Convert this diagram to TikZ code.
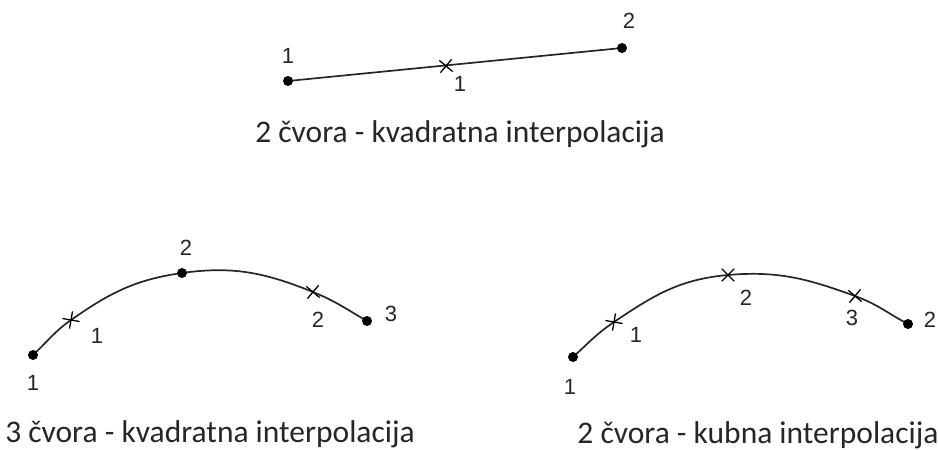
\documentclass[tikz,border=0pt]{standalone}
\usepackage{fontspec}
\setmainfont{Carlito}
\newfontfamily\labelfont{Liberation Sans}
\usetikzlibrary{shapes.misc}
\begin{document}
\begin{tikzpicture}[x=1pt,y=-1pt,
  knot/.style={circle,fill=black,inner sep=0pt,minimum size=10pt},
  xmark/.style={cross out,draw=black,line width=1.3pt,inner sep=0pt,minimum size=11pt},
  lbl/.style={font=\labelfont\fontsize{22}{22}\selectfont,text=black!85,inner sep=0pt},
  captext/.style={font=\fontsize{31.5}{32}\selectfont,text=black!85,inner sep=0pt},
  curve/.style={line width=1.7pt,draw=black!85}]
\useasboundingbox (0,0) rectangle (938,450);
% top
\coordinate (t1) at (288,81);
\coordinate (tm) at (446,66);
\coordinate (t2) at (622,48);
\draw[curve] (t1) -- (t2);
\node[knot] (T1) at (t1) {};
\node[knot] (T2) at (t2) {};
\node[xmark,rotate=5] (TM) at (tm) {};
\node[lbl] (lt1) at (288,56) {1};
\node[lbl] (lt2) at (629,21) {2};
\node[lbl] (ltm) at (460,84) {1};
\node[captext] (c1) at (460,134) {2 čvora - kvadratna interpolacija};
% bottom left
\coordinate (a1) at (33,355);
\coordinate (a2) at (71,320);
\coordinate (a3) at (182,273);
\coordinate (a4) at (313,292);
\coordinate (a5) at (367,321);
\draw[curve] (a1) to[out=43,in=215] (a2) to[out=35,in=188] (a3)
  to[out=8,in=158] (a4) to[out=-22,in=150] (a5);
\node[knot] (A1) at (a1) {};
\node[xmark,rotate=35] (A2) at (a2) {};
\node[knot] (A3) at (a3) {};
\node[xmark,rotate=5] (A4) at (a4) {};
\node[knot] (A5) at (a5) {};
\node[lbl] (la1) at (33,383) {1};
\node[lbl] (la2) at (97,336) {1};
\node[lbl] (la3) at (186,248) {2};
\node[lbl] (la4) at (318,320) {2};
\node[lbl] (la5) at (391,314) {3};
\node[captext] (c2) at (210,434) {3 čvora - kvadratna interpolacija};
% bottom right
\coordinate (b1) at (573,357);
\coordinate (b2) at (614,322);
\coordinate (b3) at (728,275);
\coordinate (b4) at (855,296);
\coordinate (b5) at (908,324);
\draw[curve] (b1) to[out=42,in=214] (b2) to[out=34,in=185] (b3)
  to[out=5,in=160] (b4) to[out=-20,in=152] (b5);
\node[knot] (B1) at (b1) {};
\node[xmark,rotate=35] (B2) at (b2) {};
\node[xmark,rotate=0] (B3) at (b3) {};
\node[xmark,rotate=5] (B4) at (b4) {};
\node[knot] (B5) at (b5) {};
\node[lbl] (lb1) at (570,387) {1};
\node[lbl] (lb2) at (636,335) {1};
\node[lbl] (lb3) at (746,298) {2};
\node[lbl] (lb4) at (852,318) {3};
\node[lbl] (lb5) at (930,320) {2};
\node[captext] (c3) at (758,435) {2 čvora - kubna interpolacija};
\end{tikzpicture}
\end{document}
